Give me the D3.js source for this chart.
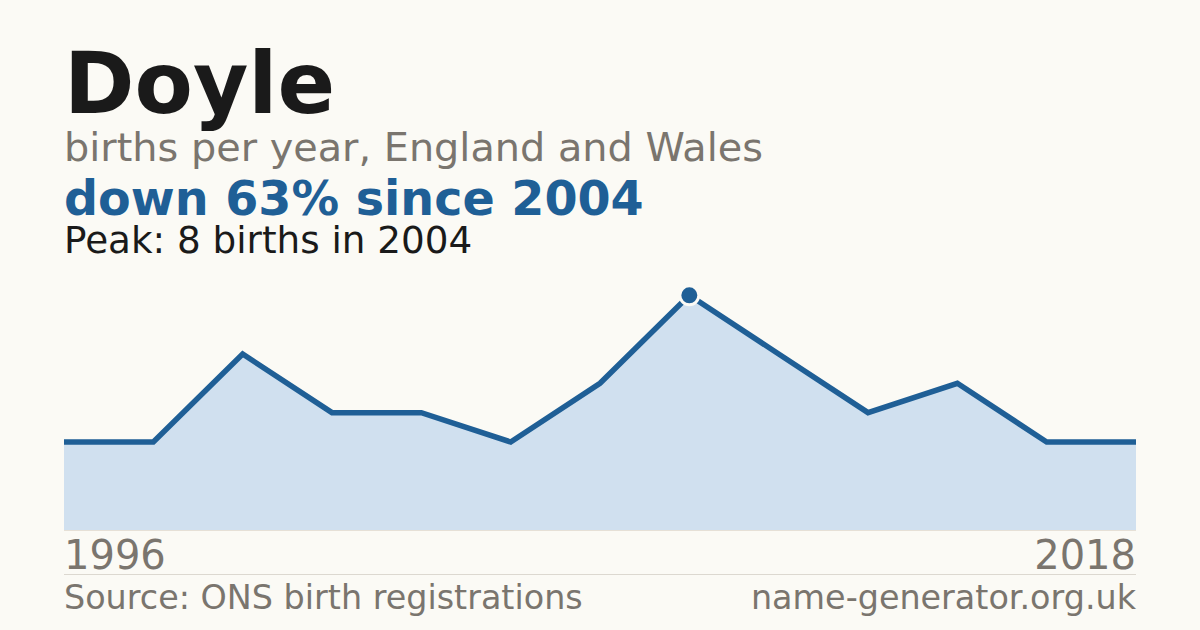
<!DOCTYPE html>
<html><head><meta charset="utf-8">
<script src="https://cdn.jsdelivr.net/npm/d3@7"></script>
<style>
html,body{margin:0;padding:0;background:#fbfaf5;}
svg{display:block;}
text{font-family:"DejaVu Sans",sans-serif;}
</style></head>
<body>
<script>
const years = [1996,1997,1998,1999,2000,2002,2003,2004,2006,2009,2012,2015,2018];
const births = [3,3,6,4,4,3,5,8,6,4,5,3,3];
const title = "Doyle";
const subtitle = "births per year, England and Wales";
const headline = "down 63% since 2004";
const peakNote = "Peak: 8 births in 2004";
const source = "Source: ONS birth registrations";
const site = "name-generator.org.uk";
const axisLabels = ["1996","2018"];

(function(){
const W=1200,H=630;
const svg=d3.select("body").append("svg").attr("width",W).attr("height",H);
svg.append("rect").attr("width",W).attr("height",H).attr("fill","#fbfaf5");

const pL=64,pR=1136,pT=295.3,pB=530;
const x=d3.scalePoint().domain(years).range([pL,pR]);
const y=d3.scaleLinear().domain([0,8]).range([pB,pT]);
const data=years.map((yr,i)=>({yr,v:births[i]}));

svg.append("path").datum(data)
  .attr("d",d3.area().x(d=>x(d.yr)).y0(pB).y1(d=>y(d.v)))
  .attr("fill","#d0e0ef");
svg.append("line").attr("x1",pL).attr("x2",pR).attr("y1",pB+0.5).attr("y2",pB+0.5)
  .attr("stroke","#e6e0d6").attr("stroke-width",1);
svg.append("path").datum(data)
  .attr("d",d3.line().x(d=>x(d.yr)).y(d=>y(d.v)))
  .attr("fill","none").attr("stroke","#1f5f96").attr("stroke-width",5.5)
  .attr("stroke-linejoin","miter");

const peakIdx=d3.maxIndex(births);
svg.append("circle").attr("cx",x(years[peakIdx])).attr("cy",y(births[peakIdx])).attr("r",9.5)
  .attr("fill","#1f5f96").attr("stroke","#fbfaf5").attr("stroke-width",3);

const grey="#7a756e";
svg.append("text").attr("x",64).attr("y",113).attr("font-size",85).attr("font-weight","bold").attr("fill","#1a1a1a").text(title);
svg.append("text").attr("x",64).attr("y",160.5).attr("font-size",39.8).attr("fill",grey).text(subtitle);
svg.append("text").attr("x",64).attr("y",215).attr("font-size",47.6).attr("font-weight","bold").attr("fill","#1f5f96").text(headline);
svg.append("text").attr("x",64).attr("y",253.3).attr("font-size",37.3).attr("fill","#1a1a1a").text(peakNote);

svg.append("text").attr("x",pL).attr("y",569.3).attr("font-size",40).attr("fill",grey).text(axisLabels[0]);
svg.append("text").attr("x",pR).attr("y",569.3).attr("font-size",40).attr("fill",grey).attr("text-anchor","end").text(axisLabels[1]);
svg.append("line").attr("x1",pL).attr("x2",pR).attr("y1",574.5).attr("y2",574.5).attr("stroke","#dcd8d0").attr("stroke-width",1);
svg.append("text").attr("x",pL).attr("y",608.5).attr("font-size",33.4).attr("fill",grey).text(source);
svg.append("text").attr("x",pR).attr("y",608.5).attr("font-size",33.4).attr("fill",grey).attr("text-anchor","end").text(site);
})();
</script>
</body></html>
